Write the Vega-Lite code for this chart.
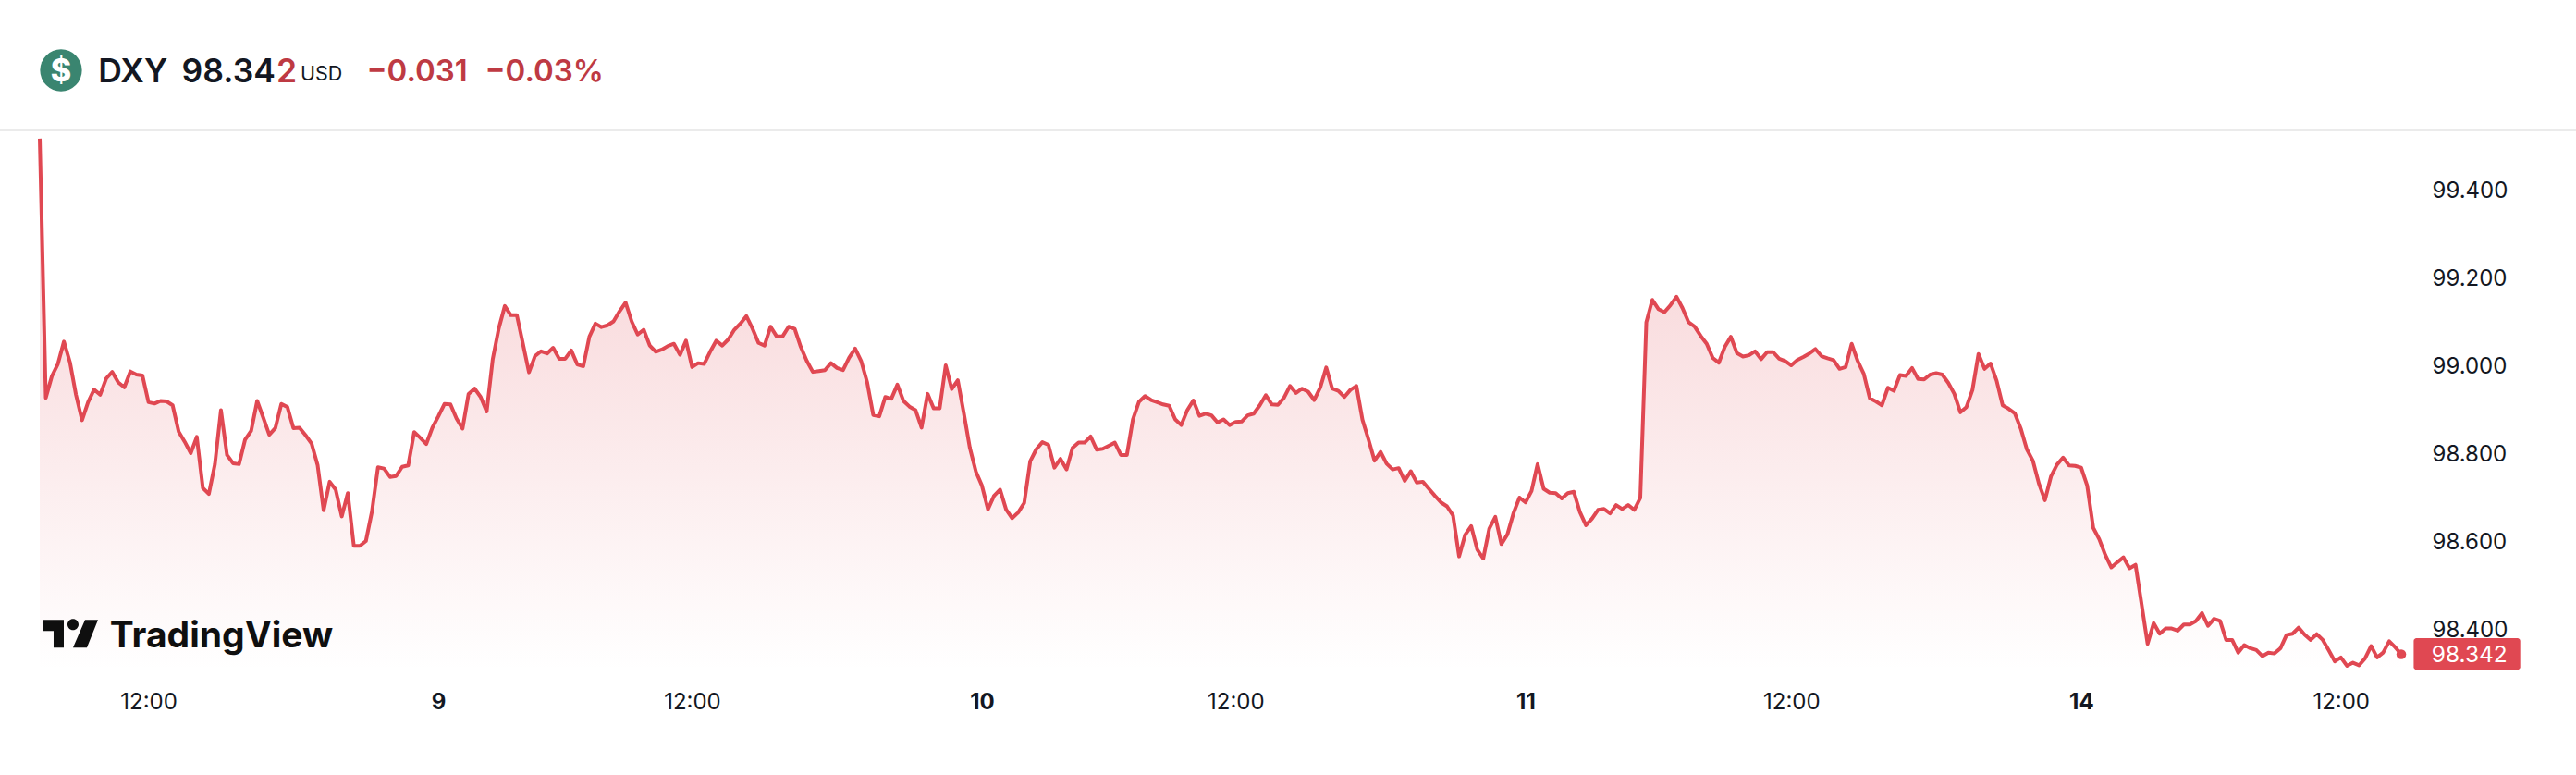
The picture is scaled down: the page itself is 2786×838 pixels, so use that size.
{"$schema":"https://vega.github.io/schema/vega-lite/v6.json","width":2786,"height":838,"padding":0,"autosize":{"type":"none"},"background":"#ffffff","config":{"view":{"stroke":null},"font":"Inter"},
"datasets":{"dxy":[{"bar":0,"close":99.516},{"bar":1,"close":98.926},{"bar":2,"close":98.975},{"bar":3,"close":99.003},{"bar":4,"close":99.054},{"bar":5,"close":99.007},{"bar":6,"close":98.933},{"bar":7,"close":98.875},{"bar":8,"close":98.916},{"bar":9,"close":98.945},{"bar":10,"close":98.933},{"bar":11,"close":98.97},{"bar":12,"close":98.985},{"bar":13,"close":98.961},{"bar":14,"close":98.95},{"bar":15,"close":98.986},{"bar":16,"close":98.979},{"bar":17,"close":98.977},{"bar":18,"close":98.916},{"bar":19,"close":98.913},{"bar":20,"close":98.919},{"bar":21,"close":98.918},{"bar":22,"close":98.909},{"bar":23,"close":98.849},{"bar":24,"close":98.826},{"bar":25,"close":98.8},{"bar":26,"close":98.837},{"bar":27,"close":98.721},{"bar":28,"close":98.707},{"bar":29,"close":98.775},{"bar":30,"close":98.898},{"bar":31,"close":98.796},{"bar":32,"close":98.777},{"bar":33,"close":98.775},{"bar":34,"close":98.831},{"bar":35,"close":98.851},{"bar":36,"close":98.919},{"bar":37,"close":98.881},{"bar":38,"close":98.842},{"bar":39,"close":98.857},{"bar":40,"close":98.912},{"bar":41,"close":98.905},{"bar":42,"close":98.857},{"bar":43,"close":98.858},{"bar":44,"close":98.841},{"bar":45,"close":98.822},{"bar":46,"close":98.773},{"bar":47,"close":98.67},{"bar":48,"close":98.735},{"bar":49,"close":98.717},{"bar":50,"close":98.656},{"bar":51,"close":98.709},{"bar":52,"close":98.589},{"bar":53,"close":98.589},{"bar":54,"close":98.6},{"bar":55,"close":98.667},{"bar":56,"close":98.768},{"bar":57,"close":98.765},{"bar":58,"close":98.746},{"bar":59,"close":98.748},{"bar":60,"close":98.769},{"bar":61,"close":98.772},{"bar":62,"close":98.848},{"bar":63,"close":98.835},{"bar":64,"close":98.821},{"bar":65,"close":98.858},{"bar":66,"close":98.884},{"bar":67,"close":98.912},{"bar":68,"close":98.911},{"bar":69,"close":98.879},{"bar":70,"close":98.856},{"bar":71,"close":98.935},{"bar":72,"close":98.947},{"bar":73,"close":98.928},{"bar":74,"close":98.895},{"bar":75,"close":99.014},{"bar":76,"close":99.084},{"bar":77,"close":99.135},{"bar":78,"close":99.114},{"bar":79,"close":99.114},{"bar":80,"close":99.049},{"bar":81,"close":98.984},{"bar":82,"close":99.021},{"bar":83,"close":99.032},{"bar":84,"close":99.027},{"bar":85,"close":99.04},{"bar":86,"close":99.015},{"bar":87,"close":99.015},{"bar":88,"close":99.034},{"bar":89,"close":99.002},{"bar":90,"close":98.998},{"bar":91,"close":99.065},{"bar":92,"close":99.095},{"bar":93,"close":99.087},{"bar":94,"close":99.091},{"bar":95,"close":99.1},{"bar":96,"close":99.123},{"bar":97,"close":99.143},{"bar":98,"close":99.1},{"bar":99,"close":99.07},{"bar":100,"close":99.081},{"bar":101,"close":99.045},{"bar":102,"close":99.031},{"bar":103,"close":99.036},{"bar":104,"close":99.044},{"bar":105,"close":99.049},{"bar":106,"close":99.024},{"bar":107,"close":99.056},{"bar":108,"close":98.996},{"bar":109,"close":99.005},{"bar":110,"close":99.003},{"bar":111,"close":99.031},{"bar":112,"close":99.056},{"bar":113,"close":99.045},{"bar":114,"close":99.059},{"bar":115,"close":99.081},{"bar":116,"close":99.095},{"bar":117,"close":99.112},{"bar":118,"close":99.084},{"bar":119,"close":99.051},{"bar":120,"close":99.045},{"bar":121,"close":99.088},{"bar":122,"close":99.066},{"bar":123,"close":99.066},{"bar":124,"close":99.088},{"bar":125,"close":99.083},{"bar":126,"close":99.042},{"bar":127,"close":99.01},{"bar":128,"close":98.985},{"bar":129,"close":98.987},{"bar":130,"close":98.989},{"bar":131,"close":99.005},{"bar":132,"close":98.994},{"bar":133,"close":98.989},{"bar":134,"close":99.017},{"bar":135,"close":99.038},{"bar":136,"close":99.01},{"bar":137,"close":98.961},{"bar":138,"close":98.887},{"bar":139,"close":98.884},{"bar":140,"close":98.928},{"bar":141,"close":98.924},{"bar":142,"close":98.956},{"bar":143,"close":98.919},{"bar":144,"close":98.906},{"bar":145,"close":98.898},{"bar":146,"close":98.858},{"bar":147,"close":98.935},{"bar":148,"close":98.902},{"bar":149,"close":98.902},{"bar":150,"close":99.0},{"bar":151,"close":98.946},{"bar":152,"close":98.966},{"bar":153,"close":98.891},{"bar":154,"close":98.812},{"bar":155,"close":98.758},{"bar":156,"close":98.726},{"bar":157,"close":98.672},{"bar":158,"close":98.703},{"bar":159,"close":98.717},{"bar":160,"close":98.672},{"bar":161,"close":98.652},{"bar":162,"close":98.665},{"bar":163,"close":98.687},{"bar":164,"close":98.782},{"bar":165,"close":98.809},{"bar":166,"close":98.825},{"bar":167,"close":98.819},{"bar":168,"close":98.767},{"bar":169,"close":98.787},{"bar":170,"close":98.763},{"bar":171,"close":98.812},{"bar":172,"close":98.824},{"bar":173,"close":98.824},{"bar":174,"close":98.838},{"bar":175,"close":98.808},{"bar":176,"close":98.81},{"bar":177,"close":98.817},{"bar":178,"close":98.824},{"bar":179,"close":98.796},{"bar":180,"close":98.796},{"bar":181,"close":98.877},{"bar":182,"close":98.917},{"bar":183,"close":98.93},{"bar":184,"close":98.921},{"bar":185,"close":98.916},{"bar":186,"close":98.911},{"bar":187,"close":98.908},{"bar":188,"close":98.877},{"bar":189,"close":98.864},{"bar":190,"close":98.898},{"bar":191,"close":98.92},{"bar":192,"close":98.885},{"bar":193,"close":98.89},{"bar":194,"close":98.886},{"bar":195,"close":98.87},{"bar":196,"close":98.877},{"bar":197,"close":98.864},{"bar":198,"close":98.871},{"bar":199,"close":98.872},{"bar":200,"close":98.886},{"bar":201,"close":98.89},{"bar":202,"close":98.909},{"bar":203,"close":98.932},{"bar":204,"close":98.911},{"bar":205,"close":98.91},{"bar":206,"close":98.926},{"bar":207,"close":98.953},{"bar":208,"close":98.937},{"bar":209,"close":98.947},{"bar":210,"close":98.94},{"bar":211,"close":98.921},{"bar":212,"close":98.949},{"bar":213,"close":98.995},{"bar":214,"close":98.947},{"bar":215,"close":98.942},{"bar":216,"close":98.928},{"bar":217,"close":98.944},{"bar":218,"close":98.953},{"bar":219,"close":98.876},{"bar":220,"close":98.831},{"bar":221,"close":98.783},{"bar":222,"close":98.803},{"bar":223,"close":98.776},{"bar":224,"close":98.763},{"bar":225,"close":98.766},{"bar":226,"close":98.737},{"bar":227,"close":98.759},{"bar":228,"close":98.733},{"bar":229,"close":98.735},{"bar":230,"close":98.719},{"bar":231,"close":98.703},{"bar":232,"close":98.688},{"bar":233,"close":98.679},{"bar":234,"close":98.658},{"bar":235,"close":98.565},{"bar":236,"close":98.614},{"bar":237,"close":98.634},{"bar":238,"close":98.581},{"bar":239,"close":98.56},{"bar":240,"close":98.628},{"bar":241,"close":98.655},{"bar":242,"close":98.593},{"bar":243,"close":98.615},{"bar":244,"close":98.663},{"bar":245,"close":98.699},{"bar":246,"close":98.688},{"bar":247,"close":98.714},{"bar":248,"close":98.775},{"bar":249,"close":98.719},{"bar":250,"close":98.71},{"bar":251,"close":98.709},{"bar":252,"close":98.697},{"bar":253,"close":98.709},{"bar":254,"close":98.712},{"bar":255,"close":98.666},{"bar":256,"close":98.636},{"bar":257,"close":98.651},{"bar":258,"close":98.671},{"bar":259,"close":98.673},{"bar":260,"close":98.663},{"bar":261,"close":98.682},{"bar":262,"close":98.673},{"bar":263,"close":98.682},{"bar":264,"close":98.671},{"bar":265,"close":98.698},{"bar":266,"close":99.098},{"bar":267,"close":99.149},{"bar":268,"close":99.128},{"bar":269,"close":99.121},{"bar":270,"close":99.137},{"bar":271,"close":99.156},{"bar":272,"close":99.13},{"bar":273,"close":99.098},{"bar":274,"close":99.088},{"bar":275,"close":99.067},{"bar":276,"close":99.049},{"bar":277,"close":99.017},{"bar":278,"close":99.006},{"bar":279,"close":99.042},{"bar":280,"close":99.065},{"bar":281,"close":99.028},{"bar":282,"close":99.02},{"bar":283,"close":99.023},{"bar":284,"close":99.032},{"bar":285,"close":99.014},{"bar":286,"close":99.03},{"bar":287,"close":99.03},{"bar":288,"close":99.015},{"bar":289,"close":99.01},{"bar":290,"close":99.0},{"bar":291,"close":99.012},{"bar":292,"close":99.019},{"bar":293,"close":99.027},{"bar":294,"close":99.037},{"bar":295,"close":99.021},{"bar":296,"close":99.016},{"bar":297,"close":99.012},{"bar":298,"close":98.992},{"bar":299,"close":98.996},{"bar":300,"close":99.049},{"bar":301,"close":99.01},{"bar":302,"close":98.981},{"bar":303,"close":98.925},{"bar":304,"close":98.918},{"bar":305,"close":98.909},{"bar":306,"close":98.949},{"bar":307,"close":98.942},{"bar":308,"close":98.978},{"bar":309,"close":98.976},{"bar":310,"close":98.994},{"bar":311,"close":98.969},{"bar":312,"close":98.968},{"bar":313,"close":98.979},{"bar":314,"close":98.982},{"bar":315,"close":98.979},{"bar":316,"close":98.96},{"bar":317,"close":98.935},{"bar":318,"close":98.893},{"bar":319,"close":98.905},{"bar":320,"close":98.944},{"bar":321,"close":99.026},{"bar":322,"close":98.992},{"bar":323,"close":99.004},{"bar":324,"close":98.965},{"bar":325,"close":98.909},{"bar":326,"close":98.901},{"bar":327,"close":98.891},{"bar":328,"close":98.856},{"bar":329,"close":98.809},{"bar":330,"close":98.783},{"bar":331,"close":98.731},{"bar":332,"close":98.693},{"bar":333,"close":98.747},{"bar":334,"close":98.774},{"bar":335,"close":98.79},{"bar":336,"close":98.772},{"bar":337,"close":98.771},{"bar":338,"close":98.767},{"bar":339,"close":98.726},{"bar":340,"close":98.63},{"bar":341,"close":98.604},{"bar":342,"close":98.568},{"bar":343,"close":98.54},{"bar":344,"close":98.552},{"bar":345,"close":98.563},{"bar":346,"close":98.538},{"bar":347,"close":98.546},{"bar":348,"close":98.456},{"bar":349,"close":98.366},{"bar":350,"close":98.413},{"bar":351,"close":98.389},{"bar":352,"close":98.401},{"bar":353,"close":98.401},{"bar":354,"close":98.396},{"bar":355,"close":98.41},{"bar":356,"close":98.41},{"bar":357,"close":98.418},{"bar":358,"close":98.436},{"bar":359,"close":98.407},{"bar":360,"close":98.423},{"bar":361,"close":98.418},{"bar":362,"close":98.375},{"bar":363,"close":98.375},{"bar":364,"close":98.346},{"bar":365,"close":98.363},{"bar":366,"close":98.356},{"bar":367,"close":98.352},{"bar":368,"close":98.338},{"bar":369,"close":98.346},{"bar":370,"close":98.344},{"bar":371,"close":98.356},{"bar":372,"close":98.386},{"bar":373,"close":98.389},{"bar":374,"close":98.403},{"bar":375,"close":98.387},{"bar":376,"close":98.375},{"bar":377,"close":98.388},{"bar":378,"close":98.375},{"bar":379,"close":98.351},{"bar":380,"close":98.326},{"bar":381,"close":98.335},{"bar":382,"close":98.316},{"bar":383,"close":98.323},{"bar":384,"close":98.317},{"bar":385,"close":98.333},{"bar":386,"close":98.361},{"bar":387,"close":98.335},{"bar":388,"close":98.346},{"bar":389,"close":98.372},{"bar":390,"close":98.358},{"bar":391,"close":98.342}],
"last":[{"bar":391,"close":98.342}],"one":[{}]},
"layer":[
{"data":{"name":"dxy"},"mark":{"type":"area","color":{"gradient":"linear","x1":1,"y1":0,"x2":1,"y2":1,"stops":[{"offset":0,"color":"rgba(224,72,82,0.27)"},{"offset":1,"color":"rgba(224,72,82,0)"}]}},
"encoding":{"x":{"field":"bar","type":"quantitative","title":null,"scale":{"domain":[-6.583,419.93],"nice":false,"zero":false},"axis":{"orient":"bottom","offset":-79,"domain":false,"ticks":false,"grid":false,"labelPadding":0,"labelBaseline":"middle","labelFontSize":24,"labelFont":"Inter","labelColor":"#131722","labelOverlap":false,"labelFlush":false,"values":[18,66,108,156,198,246,290,338,381],"labelExpr":"datum.value==66?'9':datum.value==156?'10':datum.value==246?'11':datum.value==338?'14':'12:00'","labelFontWeight":{"condition":{"test":"datum.value==66||datum.value==156||datum.value==246||datum.value==338","value":700},"value":400}}},
"y":{"field":"close","type":"quantitative","title":null,"scale":{"domain":[98.0674,99.8316],"nice":false,"zero":false},"axis":{"orient":"right","offset":-156,"domain":false,"ticks":false,"grid":false,"labelPadding":0,"labelOffset":1.5,"labelAlign":"left","labelBaseline":"middle","labelFontSize":24,"labelFont":"Inter","labelColor":"#131722","values":[98.4,98.6,98.8,99,99.2,99.4],"format":".3f"}},
"y2":{"datum":98.305}}},
{"data":{"name":"dxy"},"mark":{"type":"line","color":"#E04852","strokeWidth":4,"strokeJoin":"round"},"encoding":{"x":{"field":"bar","type":"quantitative"},"y":{"field":"close","type":"quantitative"}}},
{"data":{"name":"last"},"mark":{"type":"point","filled":true,"opacity":1,"color":"#E04852","size":110},"encoding":{"x":{"field":"bar","type":"quantitative"},"y":{"field":"close","type":"quantitative"}}},
{"data":{"name":"one"},"mark":{"type":"rect","color":"#E04852","cornerRadius":3},"encoding":{"x":{"datum":393.05,"type":"quantitative"},"x2":{"datum":410.7},"y":{"datum":98.379,"type":"quantitative"},"y2":{"datum":98.307}}},
{"data":{"name":"one"},"mark":{"type":"text","text":"98.342","color":"#ffffff","font":"Inter","fontSize":24.5,"align":"left","baseline":"middle"},"encoding":{"x":{"datum":396,"type":"quantitative"},"y":{"datum":98.339,"type":"quantitative"}}},
{"data":{"name":"one"},"mark":{"type":"rule","color":"#ebebeb","strokeWidth":2},"encoding":{"y":{"datum":99.5347,"type":"quantitative"}}},
{"data":{"name":"one"},"mark":{"type":"point","filled":true,"opacity":1,"color":"#3A8570","size":2050},"encoding":{"x":{"datum":3.52,"type":"quantitative"},"y":{"datum":99.6716,"type":"quantitative"}}},
{"data":{"name":"one"},"mark":{"type":"text","text":"$","color":"#ffffff","font":"Inter","fontWeight":800,"fontSize":34,"align":"center","baseline":"middle"},"encoding":{"x":{"datum":3.52,"type":"quantitative"},"y":{"datum":99.668,"type":"quantitative"}}},
{"data":{"name":"one"},"mark":{"type":"text","text":"DXY","color":"#131722","font":"Inter","fontWeight":600,"fontSize":35.5,"align":"left","baseline":"middle"},"encoding":{"x":{"datum":9.7,"type":"quantitative"},"y":{"datum":99.668,"type":"quantitative"}}},
{"data":{"name":"one"},"mark":{"type":"text","text":"98.34","color":"#131722","font":"Inter","fontWeight":600,"fontSize":35.5,"align":"left","baseline":"middle"},"encoding":{"x":{"datum":23.5,"type":"quantitative"},"y":{"datum":99.668,"type":"quantitative"}}},
{"data":{"name":"one"},"mark":{"type":"text","text":"2","color":"#BE3A43","font":"Inter","fontWeight":600,"fontSize":35.5,"align":"left","baseline":"middle"},"encoding":{"x":{"datum":39.2,"type":"quantitative"},"y":{"datum":99.668,"type":"quantitative"}}},
{"data":{"name":"one"},"mark":{"type":"text","text":"USD","color":"#131722","font":"Inter","fontWeight":400,"fontSize":21.5,"align":"left","baseline":"middle"},"encoding":{"x":{"datum":43.17,"type":"quantitative"},"y":{"datum":99.661,"type":"quantitative"}}},
{"data":{"name":"one"},"mark":{"type":"text","text":"−0.031","color":"#BE3A43","font":"Inter","fontWeight":600,"fontSize":33,"align":"left","baseline":"middle"},"encoding":{"x":{"datum":54.1,"type":"quantitative"},"y":{"datum":99.668,"type":"quantitative"}}},
{"data":{"name":"one"},"mark":{"type":"text","text":"−0.03%","color":"#BE3A43","font":"Inter","fontWeight":600,"fontSize":33,"align":"left","baseline":"middle"},"encoding":{"x":{"datum":73.7,"type":"quantitative"},"y":{"datum":99.668,"type":"quantitative"}}},
{"data":{"name":"one"},"mark":{"type":"point","filled":true,"opacity":1,"color":"#0f0f0f","size":3600,"shape":"M-1 -0.5H-0.233V0.5H-0.6V-0.1H-1ZM0.533 -0.5H1L0.6 0.5H0.1ZM-0.1 -0.333a0.2 0.2 0 1 0 0.4 0a0.2 0.2 0 1 0 -0.4 0Z"},"encoding":{"x":{"datum":5.05,"type":"quantitative"},"y":{"datum":98.389,"type":"quantitative"}}},
{"data":{"name":"one"},"mark":{"type":"text","text":"TradingView","color":"#0f0f0f","font":"Inter","fontWeight":700,"fontSize":39,"align":"left","baseline":"middle"},"encoding":{"x":{"datum":11.6,"type":"quantitative"},"y":{"datum":98.384,"type":"quantitative"}}}
]}
